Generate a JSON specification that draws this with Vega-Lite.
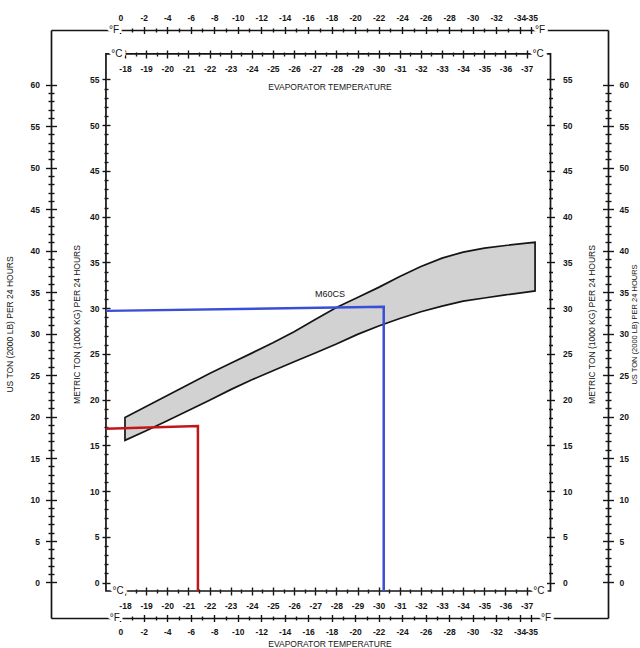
{
  "$schema": "https://vega.github.io/schema/vega-lite/v6.json",
  "width": 557,
  "height": 588,
  "autosize": {"type": "none"},
  "padding": {"left": 51, "top": 30, "right": 32, "bottom": 30},
  "background": "white",
  "config": {
    "view": {"stroke": null},
    "axis": {
      "grid": false,
      "labelFont": "Liberation Sans",
      "labelFontSize": 8.5,
      "labelFontWeight": "bold",
      "labelColor": "#151515",
      "tickColor": "#151515",
      "tickWidth": 1.4,
      "domainColor": "#151515",
      "domainWidth": 1.7,
      "titleFont": "Liberation Sans",
      "titleFontSize": 8.5,
      "titleFontWeight": "normal",
      "titleColor": "#151515",
      "labelOverlap": false,
      "labelFlush": false,
      "labelBound": false
    },
    "text": {"font": "Liberation Sans"}
  },
  "datasets": {
    "band": [
      {"t": -18, "upper": 18.05, "lower": 15.54},
      {"t": -19, "upper": 19.25, "lower": 16.6},
      {"t": -20, "upper": 20.45, "lower": 17.69},
      {"t": -21, "upper": 21.66, "lower": 18.8},
      {"t": -22, "upper": 22.86, "lower": 19.94},
      {"t": -23, "upper": 23.97, "lower": 21.09},
      {"t": -24, "upper": 25.08, "lower": 22.17},
      {"t": -25, "upper": 26.22, "lower": 23.15},
      {"t": -26, "upper": 27.43, "lower": 24.13},
      {"t": -27, "upper": 28.76, "lower": 25.09},
      {"t": -28, "upper": 30.08, "lower": 26.07},
      {"t": -29, "upper": 31.17, "lower": 27.13},
      {"t": -30, "upper": 32.27, "lower": 28.05},
      {"t": -31, "upper": 33.47, "lower": 28.87},
      {"t": -32, "upper": 34.55, "lower": 29.6},
      {"t": -33, "upper": 35.47, "lower": 30.22},
      {"t": -34, "upper": 36.13, "lower": 30.76},
      {"t": -35, "upper": 36.56, "lower": 31.11},
      {"t": -36, "upper": 36.85, "lower": 31.45},
      {"t": -37, "upper": 37.1, "lower": 31.76},
      {"t": -37.4, "upper": 37.2, "lower": 31.88}
    ],
    "guides": [
      {"t": -17.1, "m": 16.8, "c": "A", "i": 1},
      {"t": -21.45, "m": 17.1, "c": "A", "i": 2},
      {"t": -21.45, "m": -0.93, "c": "A", "i": 3},
      {"t": -17.1, "m": 29.7, "c": "B", "i": 1},
      {"t": -30.24, "m": 30.15, "c": "B", "i": 2},
      {"t": -30.24, "m": -0.93, "c": "B", "i": 3}
    ],
    "clabels": [
      {"t": -17.61, "m": 57.79, "lab": "°C"},
      {"t": -37.54, "m": 57.79, "lab": "°C"},
      {"t": -17.67, "m": -0.93, "lab": "°C"},
      {"t": -37.58, "m": -0.93, "lab": "°C"}
    ],
    "flabels": [
      {"f": 0.54, "u": 66.59, "lab": "°F", "side": "top"},
      {"f": -35.74, "u": 66.59, "lab": "°F", "side": "top"},
      {"f": 0.46, "u": -4.28, "lab": "°F", "side": "bottom"},
      {"f": -36.25, "u": -4.28, "lab": "°F", "side": "bottom"}
    ]
  },
  "layer": [
    {
      "layer": [
        {
          "data": {"values": [{}]},
          "mark": {"type": "rect", "filled": false, "stroke": "#151515", "strokeWidth": 1.7},
          "encoding": {
            "x": {"datum": -17.1, "type": "quantitative", "scale": {"domain": [-40.85, -14.5], "reverse": true, "nice": false, "zero": false},
              "axis": {"orient": "bottom", "offset": -564, "values": [-18,-18.5,-19,-19.5,-20,-20.5,-21,-21.5,-22,-22.5,-23,-23.5,-24,-24.5,-25,-25.5,-26,-26.5,-27,-27.5,-28,-28.5,-29,-29.5,-30,-30.5,-31,-31.5,-32,-32.5,-33,-33.5,-34,-34.5,-35,-35.5,-36,-36.5,-37], "domain": false, "tickSize": {"condition": {"test": "datum.value % 1 === 0", "value": -4}, "value": -2}, "labels": false, "title": null}},
            "x2": {"datum": -38.13},
            "y": {"datum": -0.93, "type": "quantitative", "scale": {"domain": [-3.88, 60.41], "nice": false, "zero": false},
              "axis": {"orient": "left", "offset": -55, "values": [0,1,2,3,4,5,6,7,8,9,10,11,12,13,14,15,16,17,18,19,20,21,22,23,24,25,26,27,28,29,30,31,32,33,34,35,36,37,38,39,40,41,42,43,44,45,46,47,48,49,50,51,52,53,54,55], "domain": false, "tickSize": {"condition": {"test": "datum.value % 5 === 0", "value": -4}, "value": -2}, "labels": false, "title": null}},
            "y2": {"datum": 57.79}
          }
        },
        {
          "data": {"name": "band"},
          "mark": {"type": "area", "fill": "#d2d2d2", "stroke": "#151515", "strokeWidth": 1.7},
          "encoding": {
            "x": {"field": "t", "type": "quantitative", "scale": {"domain": [-40.85, -14.5], "reverse": true, "nice": false, "zero": false},
              "axis": {"orient": "bottom", "offset": -564, "values": [-18,-18.5,-19,-19.5,-20,-20.5,-21,-21.5,-22,-22.5,-23,-23.5,-24,-24.5,-25,-25.5,-26,-26.5,-27,-27.5,-28,-28.5,-29,-29.5,-30,-30.5,-31,-31.5,-32,-32.5,-33,-33.5,-34,-34.5,-35,-35.5,-36,-36.5,-37], "domain": false, "tickSize": {"condition": {"test": "datum.value % 1 === 0", "value": 4}, "value": 2}, "labelExpr": "datum.value % 1 === 0 ? '-' + abs(datum.value) : ''", "labelPadding": 6, "title": "EVAPORATOR TEMPERATURE", "titlePadding": 10}},
            "y": {"field": "upper", "type": "quantitative", "scale": {"domain": [-3.88, 60.41], "nice": false, "zero": false},
              "axis": {"orient": "left", "offset": -55, "values": [0,1,2,3,4,5,6,7,8,9,10,11,12,13,14,15,16,17,18,19,20,21,22,23,24,25,26,27,28,29,30,31,32,33,34,35,36,37,38,39,40,41,42,43,44,45,46,47,48,49,50,51,52,53,54,55], "domain": false, "tickSize": {"condition": {"test": "datum.value % 5 === 0", "value": 4}, "value": 2}, "labelExpr": "datum.value % 5 === 0 ? datum.label : ''", "labelPadding": 3, "title": "METRIC TON (1000 KG) PER 24 HOURS", "titlePadding": 8}},
            "y2": {"field": "lower"}
          }
        },
        {
          "data": {"name": "guides"},
          "mark": {"type": "line", "strokeWidth": 2.5},
          "encoding": {
            "x": {"field": "t", "type": "quantitative", "scale": {"domain": [-40.85, -14.5], "reverse": true, "nice": false, "zero": false},
              "axis": {"orient": "bottom", "offset": -27, "values": [-18,-18.5,-19,-19.5,-20,-20.5,-21,-21.5,-22,-22.5,-23,-23.5,-24,-24.5,-25,-25.5,-26,-26.5,-27,-27.5,-28,-28.5,-29,-29.5,-30,-30.5,-31,-31.5,-32,-32.5,-33,-33.5,-34,-34.5,-35,-35.5,-36,-36.5,-37], "domain": false, "tickSize": {"condition": {"test": "datum.value % 1 === 0", "value": 4}, "value": 2}, "labelExpr": "datum.value % 1 === 0 ? '-' + abs(datum.value) : ''", "labelPadding": 6, "title": null}},
            "y": {"field": "m", "type": "quantitative", "scale": {"domain": [-3.88, 60.41], "nice": false, "zero": false},
              "axis": {"orient": "right", "offset": -57.5, "values": [0,1,2,3,4,5,6,7,8,9,10,11,12,13,14,15,16,17,18,19,20,21,22,23,24,25,26,27,28,29,30,31,32,33,34,35,36,37,38,39,40,41,42,43,44,45,46,47,48,49,50,51,52,53,54,55], "domain": false, "tickSize": {"condition": {"test": "datum.value % 5 === 0", "value": 4}, "value": 2}, "labelExpr": "datum.value % 5 === 0 ? datum.label : ''", "labelPadding": 8, "title": "METRIC TON (1000 KG) PER 24 HOURS", "titleAngle": 270, "titlePadding": 25}},
            "color": {"field": "c", "type": "nominal", "scale": {"domain": ["A", "B"], "range": ["#c0161c", "#3b4ed6"]}, "legend": null},
            "order": {"field": "i"}
          }
        },
        {
          "data": {"name": "clabels"},
          "mark": {"type": "text", "fontSize": 10, "fill": "white", "stroke": "white", "strokeWidth": 6, "align": "center", "baseline": "middle"},
          "encoding": {
            "x": {"field": "t", "type": "quantitative", "scale": {"domain": [-40.85, -14.5], "reverse": true, "nice": false, "zero": false},
              "axis": {"orient": "bottom", "offset": -27, "values": [-18,-18.5,-19,-19.5,-20,-20.5,-21,-21.5,-22,-22.5,-23,-23.5,-24,-24.5,-25,-25.5,-26,-26.5,-27,-27.5,-28,-28.5,-29,-29.5,-30,-30.5,-31,-31.5,-32,-32.5,-33,-33.5,-34,-34.5,-35,-35.5,-36,-36.5,-37], "domain": false, "tickSize": {"condition": {"test": "datum.value % 1 === 0", "value": -4}, "value": -2}, "labels": false, "title": null}},
            "y": {"field": "m", "type": "quantitative", "scale": {"domain": [-3.88, 60.41], "nice": false, "zero": false},
              "axis": {"orient": "right", "offset": -57.5, "values": [0,1,2,3,4,5,6,7,8,9,10,11,12,13,14,15,16,17,18,19,20,21,22,23,24,25,26,27,28,29,30,31,32,33,34,35,36,37,38,39,40,41,42,43,44,45,46,47,48,49,50,51,52,53,54,55], "domain": false, "tickSize": {"condition": {"test": "datum.value % 5 === 0", "value": -4}, "value": -2}, "labels": false, "title": null}},
            "text": {"field": "lab"}
          }
        },
        {
          "data": {"name": "clabels"},
          "mark": {"type": "text", "fontSize": 10, "color": "#151515", "align": "center", "baseline": "middle"},
          "encoding": {
            "x": {"field": "t", "type": "quantitative", "axis": null},
            "y": {"field": "m", "type": "quantitative", "axis": null},
            "text": {"field": "lab"}
          }
        },
        {
          "data": {"values": [{"t": -27.7, "m": 31.55, "name": "M60CS"}]},
          "mark": {"type": "text", "fontSize": 9, "color": "#151515", "align": "center", "baseline": "middle"},
          "encoding": {
            "x": {"field": "t", "type": "quantitative", "axis": null},
            "y": {"field": "m", "type": "quantitative", "axis": null},
            "text": {"field": "name"}
          }
        }
      ],
      "resolve": {"axis": {"x": "independent", "y": "independent"}}
    },
    {
      "data": {"name": "flabels"},
      "layer": [
        {
          "transform": [{"filter": "datum.side === 'top'"}],
          "mark": {"type": "text", "fontSize": 10, "fill": "white", "stroke": "white", "strokeWidth": 6, "align": "center", "baseline": "middle"},
          "encoding": {
            "x": {"field": "f", "type": "quantitative", "scale": {"domain": [-41.53, 5.9], "reverse": true, "nice": false, "zero": false},
              "axis": {"orient": "top", "offset": 0, "values": [0,-1,-2,-3,-4,-5,-6,-7,-8,-9,-10,-11,-12,-13,-14,-15,-16,-17,-18,-19,-20,-21,-22,-23,-24,-25,-26,-27,-28,-29,-30,-31,-32,-33,-34,-35], "domain": true, "tickSize": {"condition": {"test": "datum.value % 2 === 0 || datum.value === -35", "value": 3.5}, "value": 2}, "labelExpr": "(datum.value % 2 === 0 || datum.value === -35) ? (datum.value === 0 ? '0' : '-' + abs(datum.value)) : ''", "labelPadding": 4, "title": null}},
            "y": {"field": "u", "type": "quantitative", "scale": {"domain": [-4.28, 66.59], "nice": false, "zero": false},
              "axis": {"orient": "left", "offset": 0, "values": [0,1,2,3,4,5,6,7,8,9,10,11,12,13,14,15,16,17,18,19,20,21,22,23,24,25,26,27,28,29,30,31,32,33,34,35,36,37,38,39,40,41,42,43,44,45,46,47,48,49,50,51,52,53,54,55,56,57,58,59,60], "domain": true, "tickSize": {"condition": {"test": "datum.value % 5 === 0", "value": 5.5}, "value": 3}, "labelExpr": "datum.value % 5 === 0 ? datum.label : ''", "labelPadding": 6, "title": "US TON (2000 LB) PER 24 HOURS", "titlePadding": 16}},
            "text": {"field": "lab"}
          }
        },
        {
          "transform": [{"filter": "datum.side === 'top'"}],
          "mark": {"type": "text", "fontSize": 10, "color": "#151515", "align": "center", "baseline": "middle"},
          "encoding": {
            "x": {"field": "f", "type": "quantitative", "scale": {"domain": [-41.53, 5.9], "reverse": true, "nice": false, "zero": false},
              "axis": {"orient": "top", "offset": 0, "values": [0,-1,-2,-3,-4,-5,-6,-7,-8,-9,-10,-11,-12,-13,-14,-15,-16,-17,-18,-19,-20,-21,-22,-23,-24,-25,-26,-27,-28,-29,-30,-31,-32,-33,-34,-35], "domain": false, "tickSize": {"condition": {"test": "datum.value % 2 === 0 || datum.value === -35", "value": -3.5}, "value": -2}, "labels": false, "title": null}},
            "y": {"field": "u", "type": "quantitative", "scale": {"domain": [-4.28, 66.59], "nice": false, "zero": false},
              "axis": {"orient": "left", "offset": 0, "values": [0,1,2,3,4,5,6,7,8,9,10,11,12,13,14,15,16,17,18,19,20,21,22,23,24,25,26,27,28,29,30,31,32,33,34,35,36,37,38,39,40,41,42,43,44,45,46,47,48,49,50,51,52,53,54,55,56,57,58,59,60], "domain": false, "tickSize": {"condition": {"test": "datum.value % 5 === 0", "value": -5.5}, "value": -3}, "labels": false, "title": null}},
            "text": {"field": "lab"}
          }
        },
        {
          "transform": [{"filter": "datum.side === 'bottom'"}],
          "mark": {"type": "text", "fontSize": 10, "fill": "white", "stroke": "white", "strokeWidth": 6, "align": "center", "baseline": "middle"},
          "encoding": {
            "x": {"field": "f", "type": "quantitative", "scale": {"domain": [-41.53, 5.9], "reverse": true, "nice": false, "zero": false},
              "axis": {"orient": "bottom", "offset": 0, "values": [0,-1,-2,-3,-4,-5,-6,-7,-8,-9,-10,-11,-12,-13,-14,-15,-16,-17,-18,-19,-20,-21,-22,-23,-24,-25,-26,-27,-28,-29,-30,-31,-32,-33,-34,-35], "domain": true, "tickSize": {"condition": {"test": "datum.value % 2 === 0 || datum.value === -35", "value": 3.5}, "value": 2}, "labelExpr": "(datum.value % 2 === 0 || datum.value === -35) ? (datum.value === 0 ? '0' : '-' + abs(datum.value)) : ''", "labelPadding": 6, "title": "EVAPORATOR TEMPERATURE", "titlePadding": 3}},
            "y": {"field": "u", "type": "quantitative", "scale": {"domain": [-4.28, 66.59], "nice": false, "zero": false},
              "axis": {"orient": "right", "offset": 0, "values": [0,1,2,3,4,5,6,7,8,9,10,11,12,13,14,15,16,17,18,19,20,21,22,23,24,25,26,27,28,29,30,31,32,33,34,35,36,37,38,39,40,41,42,43,44,45,46,47,48,49,50,51,52,53,54,55,56,57,58,59,60], "domain": true, "tickSize": {"condition": {"test": "datum.value % 5 === 0", "value": 5.5}, "value": 3}, "labelExpr": "datum.value % 5 === 0 ? datum.label : ''", "labelPadding": 5.5, "title": "US TON (2000 LB) PER 24 HOURS", "titleAngle": 270, "titleFontSize": 7.5, "titlePadding": 10}},
            "text": {"field": "lab"}
          }
        },
        {
          "transform": [{"filter": "datum.side === 'bottom'"}],
          "mark": {"type": "text", "fontSize": 10, "color": "#151515", "align": "center", "baseline": "middle"},
          "encoding": {
            "x": {"field": "f", "type": "quantitative", "scale": {"domain": [-41.53, 5.9], "reverse": true, "nice": false, "zero": false},
              "axis": {"orient": "bottom", "offset": 0, "values": [0,-1,-2,-3,-4,-5,-6,-7,-8,-9,-10,-11,-12,-13,-14,-15,-16,-17,-18,-19,-20,-21,-22,-23,-24,-25,-26,-27,-28,-29,-30,-31,-32,-33,-34,-35], "domain": false, "tickSize": {"condition": {"test": "datum.value % 2 === 0 || datum.value === -35", "value": -3.5}, "value": -2}, "labels": false, "title": null}},
            "y": {"field": "u", "type": "quantitative", "scale": {"domain": [-4.28, 66.59], "nice": false, "zero": false},
              "axis": {"orient": "right", "offset": 0, "values": [0,1,2,3,4,5,6,7,8,9,10,11,12,13,14,15,16,17,18,19,20,21,22,23,24,25,26,27,28,29,30,31,32,33,34,35,36,37,38,39,40,41,42,43,44,45,46,47,48,49,50,51,52,53,54,55,56,57,58,59,60], "domain": false, "tickSize": {"condition": {"test": "datum.value % 5 === 0", "value": -5.5}, "value": -3}, "labels": false, "title": null}},
            "text": {"field": "lab"}
          }
        }
      ],
      "resolve": {"axis": {"x": "independent", "y": "independent"}}
    }
  ],
  "resolve": {"scale": {"x": "independent", "y": "independent"}, "axis": {"x": "independent", "y": "independent"}}
}
